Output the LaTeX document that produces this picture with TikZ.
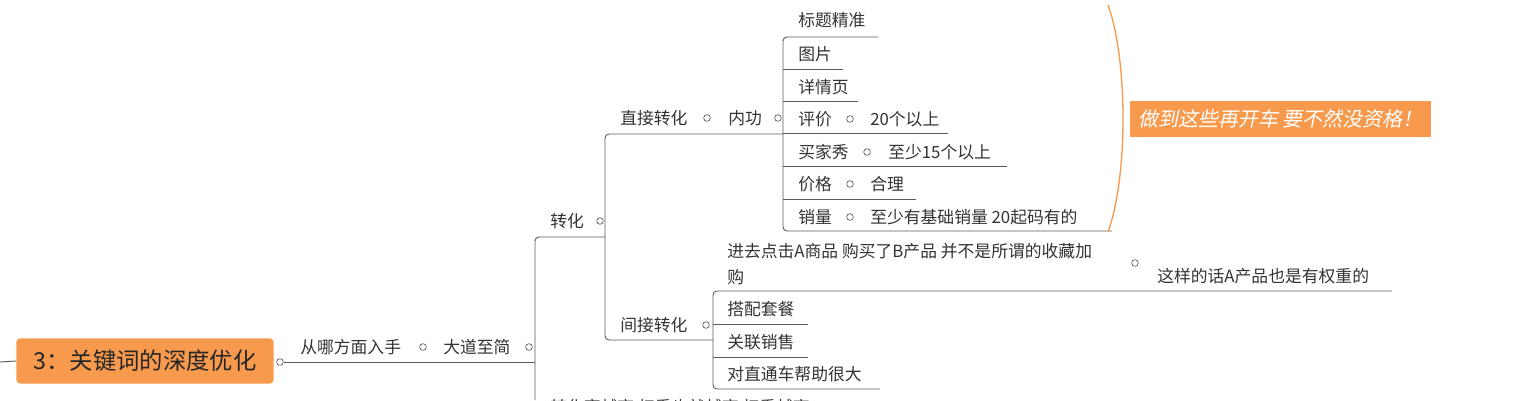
\documentclass[tikz,border=0pt]{standalone}
\usepackage{fontspec}
\setmainfont{Noto Sans CJK SC}
\newfontfamily\slantcjk[FakeSlant=0.2]{Noto Sans CJK SC}
\usetikzlibrary{decorations.pathreplacing}
\definecolor{mmorange}{HTML}{F79A4E}
\definecolor{mmline}{HTML}{5A5A5A}
\tikzset{
  topic/.style={anchor=west,inner sep=0pt,font=\fontsize{12.6pt}{14pt}\selectfont,text=black!80},
  knob/.style={circle,draw=mmline,inner sep=0pt,minimum size=5pt,line width=0.5pt},
  branch/.style={draw=mmline,line width=0.7pt,rounded corners=3pt}
}
\begin{document}
\begin{tikzpicture}[x=0.75pt,y=-0.75pt]
  \useasboundingbox (0,0) rectangle (1539,400);
  \clip (0,0) rectangle (1539,400);

  % root
  \node[fill=mmorange,rounded corners=3pt,minimum width=193pt,minimum height=34pt,
        font=\fontsize{17.5pt}{19pt}\selectfont,text=black!85] (root) at (145,361) {3：关键词的深度优化};
  \draw[branch] (0,362) -- (root.west);
  \node[knob] (k0) at (280,362) {};
  \node[topic] (how) at (300,347) {从哪方面入手};
  \node[knob] (k1) at (423,347) {};
  \node[topic] (dao) at (443,347) {大道至简};
  \node[knob] (k2) at (529,347) {};
  \draw[branch] (k0) -- (535,362);
  \draw[branch] (535,400) -- (535,237) -- (605,237);

  % 转化
  \node[topic] (zh) at (550,221) {转化};
  \node[knob] (k3) at (600,221) {};
  \node[topic] (zj) at (620,118) {直接转化};
  \node[knob] (k4) at (707,118) {};
  \node[topic] (ng) at (728,118) {内功};
  \node[knob] (k5) at (778,118) {};
  \node[topic] (jj) at (620,325) {间接转化};
  \node[knob] (k6) at (706,325) {};
  \draw[branch] (783,134) -- (605,134) -- (605,340) -- (713,340);

  % 内功
  \draw[branch] (878,37) -- (783,37) -- (783,231) -- (1112,231);
  \foreach \y/\r in {69/843,101/858,133/948,166/1007,199/916}
    \draw[mmline,line width=0.7pt] (783,\y) -- (\r,\y);
  \node[topic] (bt) at (798,20) {标题精准};
  \node[topic] (tp) at (798,54) {图片};
  \node[topic] (xq) at (798,87) {详情页};
  \node[topic] (pj) at (798,119) {评价};
  \node[knob] at (850,119) {};
  \node[topic] at (870,119) {20个以上};
  \node[topic] (mj) at (798,152) {买家秀};
  \node[knob] at (867,152) {};
  \node[topic] at (888,152) {至少15个以上};
  \node[topic] (jg) at (798,184) {价格};
  \node[knob] at (850,184) {};
  \node[topic] at (870,184) {合理};
  \node[topic] (xl) at (798,217) {销量};
  \node[knob] at (850,217) {};
  \node[topic] at (870,217) {至少有基础销量 20起码有的};

  % summary
  \draw[mmorange,line width=1pt] (1108,5) .. controls (1128,60) and (1128,177) .. (1108,232);
  \node[fill=mmorange,text=white,anchor=west,minimum height=27pt,inner xsep=6pt,
        font=\fontsize{15pt}{17pt}\slantcjk] (note) at (1130,119) {做到这些再开车 要不然没资格！};

  % 间接转化
  \draw[branch] (1392,291) -- (713,291) -- (713,389) -- (880,389);
  \draw[mmline,line width=0.7pt] (713,324) -- (808,324);
  \draw[mmline,line width=0.7pt] (713,357) -- (808,357);
  \node[topic,align=left,font=\fontsize{12.6pt}{19.5pt}\selectfont] (dj) at (727,264)
    {进去点击A商品 购买了B产品 并不是所谓的收藏加\\购};
  \node[knob] at (1135,263) {};
  \node[topic] (qz) at (1157,276) {这样的话A产品也是有权重的};
  \node[topic] (dp) at (727,309) {搭配套餐};
  \node[topic] (gl) at (727,342) {关联销售};
  \node[topic] (zt) at (727,374) {对直通车帮助很大};

  % cut off below
  \node[topic] (more) at (550,407) {转化率越高 权重也就越高 权重越高};
\end{tikzpicture}
\end{document}
